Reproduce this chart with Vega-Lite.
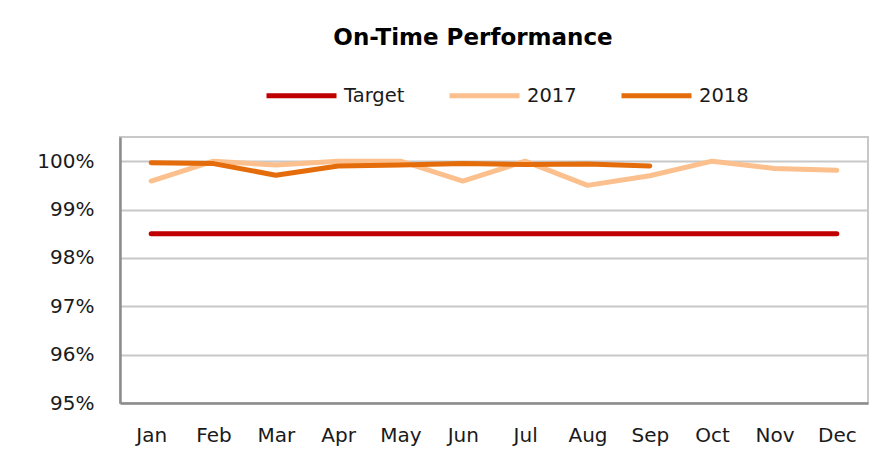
{
  "$schema": "https://vega.github.io/schema/vega-lite/v6.json",
  "width": 748,
  "height": 266,
  "autosize": {"type": "none"},
  "padding": {"left": 120, "top": 137, "right": 14, "bottom": 65},
  "background": "white",
  "title": {
    "text": "On-Time Performance",
    "font": "DejaVu Sans",
    "fontSize": 23,
    "fontWeight": "bold",
    "color": "#000000",
    "anchor": "middle",
    "dx": -21,
    "offset": 8
  },
  "data": {
    "values": [
      {"month": "Jan", "series": "Target", "value": 98.5},
      {"month": "Feb", "series": "Target", "value": 98.5},
      {"month": "Mar", "series": "Target", "value": 98.5},
      {"month": "Apr", "series": "Target", "value": 98.5},
      {"month": "May", "series": "Target", "value": 98.5},
      {"month": "Jun", "series": "Target", "value": 98.5},
      {"month": "Jul", "series": "Target", "value": 98.5},
      {"month": "Aug", "series": "Target", "value": 98.5},
      {"month": "Sep", "series": "Target", "value": 98.5},
      {"month": "Oct", "series": "Target", "value": 98.5},
      {"month": "Nov", "series": "Target", "value": 98.5},
      {"month": "Dec", "series": "Target", "value": 98.5},
      {"month": "Jan", "series": "2017", "value": 99.59},
      {"month": "Feb", "series": "2017", "value": 100.0},
      {"month": "Mar", "series": "2017", "value": 99.92},
      {"month": "Apr", "series": "2017", "value": 100.0},
      {"month": "May", "series": "2017", "value": 100.0},
      {"month": "Jun", "series": "2017", "value": 99.59},
      {"month": "Jul", "series": "2017", "value": 100.0},
      {"month": "Aug", "series": "2017", "value": 99.5},
      {"month": "Sep", "series": "2017", "value": 99.7},
      {"month": "Oct", "series": "2017", "value": 100.0},
      {"month": "Nov", "series": "2017", "value": 99.85},
      {"month": "Dec", "series": "2017", "value": 99.81},
      {"month": "Jan", "series": "2018", "value": 99.97},
      {"month": "Feb", "series": "2018", "value": 99.95},
      {"month": "Mar", "series": "2018", "value": 99.71},
      {"month": "Apr", "series": "2018", "value": 99.9},
      {"month": "May", "series": "2018", "value": 99.92},
      {"month": "Jun", "series": "2018", "value": 99.95},
      {"month": "Jul", "series": "2018", "value": 99.93},
      {"month": "Aug", "series": "2018", "value": 99.94},
      {"month": "Sep", "series": "2018", "value": 99.9}
    ]
  },
  "mark": {"type": "line", "strokeWidth": 5, "strokeCap": "round", "strokeJoin": "round"},
  "encoding": {
    "x": {
      "field": "month",
      "type": "ordinal",
      "sort": ["Jan","Feb","Mar","Apr","May","Jun","Jul","Aug","Sep","Oct","Nov","Dec"],
      "scale": {"type": "point", "padding": 0.5},
      "axis": {
        "title": null,
        "labelAngle": 0,
        "ticks": false,
        "grid": false,
        "domain": true,
        "domainColor": "#8C8C8C",
        "domainWidth": 2.5,
        "labelPadding": 22,
        "labelFontSize": 20,
        "labelColor": "#1a1a1a",
        "labelFont": "DejaVu Sans"
      }
    },
    "y": {
      "field": "value",
      "type": "quantitative",
      "scale": {"domain": [95, 100.5], "nice": false, "zero": false},
      "axis": {
        "title": null,
        "values": [95, 96, 97, 98, 99, 100],
        "labelExpr": "datum.value + '%'",
        "ticks": false,
        "grid": true,
        "gridColor": "#C8C8C8",
        "gridWidth": 2,
        "domain": true,
        "domainColor": "#8C8C8C",
        "domainWidth": 2.5,
        "labelPadding": 26,
        "labelFontSize": 20,
        "labelColor": "#1a1a1a",
        "labelFont": "DejaVu Sans"
      }
    },
    "color": {
      "field": "series",
      "type": "nominal",
      "scale": {
        "domain": ["Target", "2017", "2018"],
        "range": ["#C00000", "#FBC08D", "#E46C0A"]
      },
      "legend": {
        "title": null,
        "orient": "none",
        "legendX": 144,
        "legendY": -79,
        "direction": "horizontal",
        "symbolType": "stroke",
        "symbolSize": 4900,
        "symbolStrokeWidth": 5,
        "labelFontSize": 19.5,
        "labelColor": "#1a1a1a",
        "labelFont": "DejaVu Sans",
        "labelOffset": 5,
        "columnPadding": 34
      }
    }
  },
  "config": {
    "view": {"stroke": "#C8C8C8", "strokeWidth": 2}
  }
}
